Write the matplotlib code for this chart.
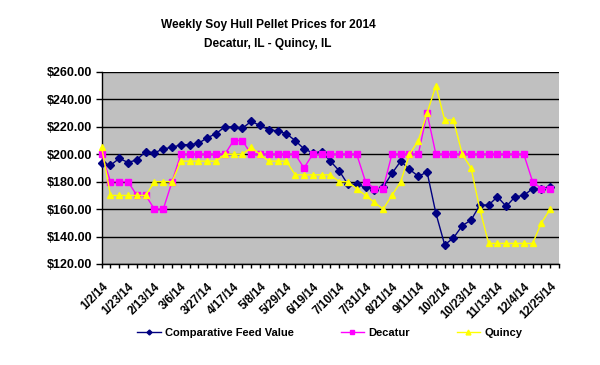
import matplotlib
matplotlib.use("Agg")
import matplotlib.pyplot as plt
from matplotlib.ticker import FixedLocator, MultipleLocator, FuncFormatter
import numpy as np

plt.rcParams['font.family'] = ['Liberation Sans', 'DejaVu Sans']

tick_labels = ["1/2/14", "1/23/14", "2/13/14", "3/6/14", "3/27/14", "4/17/14",
               "5/8/14", "5/29/14", "6/19/14", "7/10/14", "7/31/14", "8/21/14",
               "9/11/14", "10/2/14", "10/23/14", "11/13/14", "12/4/14", "12/25/14"]

cfv = [194, 192, 197, 194, 196, 202, 201, 204, 205, 207, 207, 208, 212, 215, 220, 220,
       219, 224, 221, 218, 217, 215, 210, 204, 201, 202, 195, 188, 178, 178, 176, 174,
       176, 186, 195, 189, 184, 187, 157, 134, 139, 148, 152, 163, 163, 169, 162, 169,
       170, 175, 175, 176]
decatur = [200, 180, 180, 180, 170, 170, 160, 160, 180, 200, 200, 200, 200, 200, 200, 210,
           210, 200, 200, 200, 200, 200, 200, 190, 200, 200, 200, 200, 200, 200, 180, 175,
           175, 200, 200, 200, 200, 230, 200, 200, 200, 200, 200, 200, 200, 200, 200, 200,
           200, 180, 175, 175]
quincy = [205, 170, 170, 170, 170, 170, 180, 180, 180, 195, 195, 195, 195, 195, 200, 200,
          200, 205, 200, 195, 195, 195, 185, 185, 185, 185, 185, 180, 180, 175, 170, 165,
          160, 170, 180, 200, 210, 230, 250, 225, 225, 200, 190, 160, 135, 135, 135, 135,
          135, 135, 150, 160]

x = np.arange(len(cfv))

fig = plt.figure(figsize=(6.0, 3.65), dpi=100)
ax = fig.add_axes([101.7 / 600, 1 - 264 / 365, (559 - 101.7) / 600, (264 - 72) / 365])
ax.set_facecolor('#C0C0C0')

ax.plot(x, cfv, color='#000080', lw=1, marker='D', ms=3.6, mec='#000080', mfc='#000080',
        label='Comparative Feed Value', zorder=3, clip_on=False)
ax.plot(x, decatur, color='#FF00FF', lw=1, marker='s', ms=4.5, mec='#FF00FF', mfc='#FF00FF',
        label='Decatur', zorder=4, clip_on=False)
ax.plot(x, quincy, color='#FFFF00', lw=1, marker='^', ms=5, mec='#FFFF00', mfc='#FFFF00',
        label='Quincy', zorder=5, clip_on=False)

ax.set_xlim(0, 52)
ax.set_ylim(120, 260)
ax.yaxis.set_major_locator(MultipleLocator(20))
ax.yaxis.set_major_formatter(FuncFormatter(lambda v, p: f"${v:.2f}"))
ax.grid(axis='y', color='black', lw=1, zorder=1)
ax.set_axisbelow(True)

ax.xaxis.set_major_locator(FixedLocator(np.arange(0, 52, 3)))
ax.set_xticklabels(tick_labels, rotation=45, ha='right', va='top', rotation_mode='anchor',
                   fontsize=8.5, fontweight='bold')
ax.xaxis.set_minor_locator(FixedLocator(np.arange(0, 53, 1)))
ax.tick_params(axis='x', which='both', length=3, width=1, color='black', pad=9)
ax.tick_params(axis='y', length=4, width=1, labelsize=9, pad=3)
for lab in ax.get_yticklabels():
    lab.set_fontweight('bold')

for s in ['top', 'right']:
    ax.spines[s].set_visible(False)
for s in ['left', 'bottom']:
    ax.spines[s].set_color('black')
    ax.spines[s].set_linewidth(1)

fig.text(268 / 600, 1 - 25 / 365, "Weekly Soy Hull Pellet Prices for 2014", ha='center', va='center',
         fontsize=8.6, fontweight='bold')
fig.text(268 / 600, 1 - 44 / 365, "Decatur, IL - Quincy, IL", ha='center', va='center',
         fontsize=8.6, fontweight='bold')

leg = fig.legend(loc='center', bbox_to_anchor=(330 / 600, 1 - 333 / 365), ncol=3, frameon=False,
                 prop={'size': 8, 'weight': 'bold'}, handlelength=2.1, columnspacing=4.2,
                 handletextpad=0.4, markerscale=0.7)

fig.savefig('out.png', dpi=100)
